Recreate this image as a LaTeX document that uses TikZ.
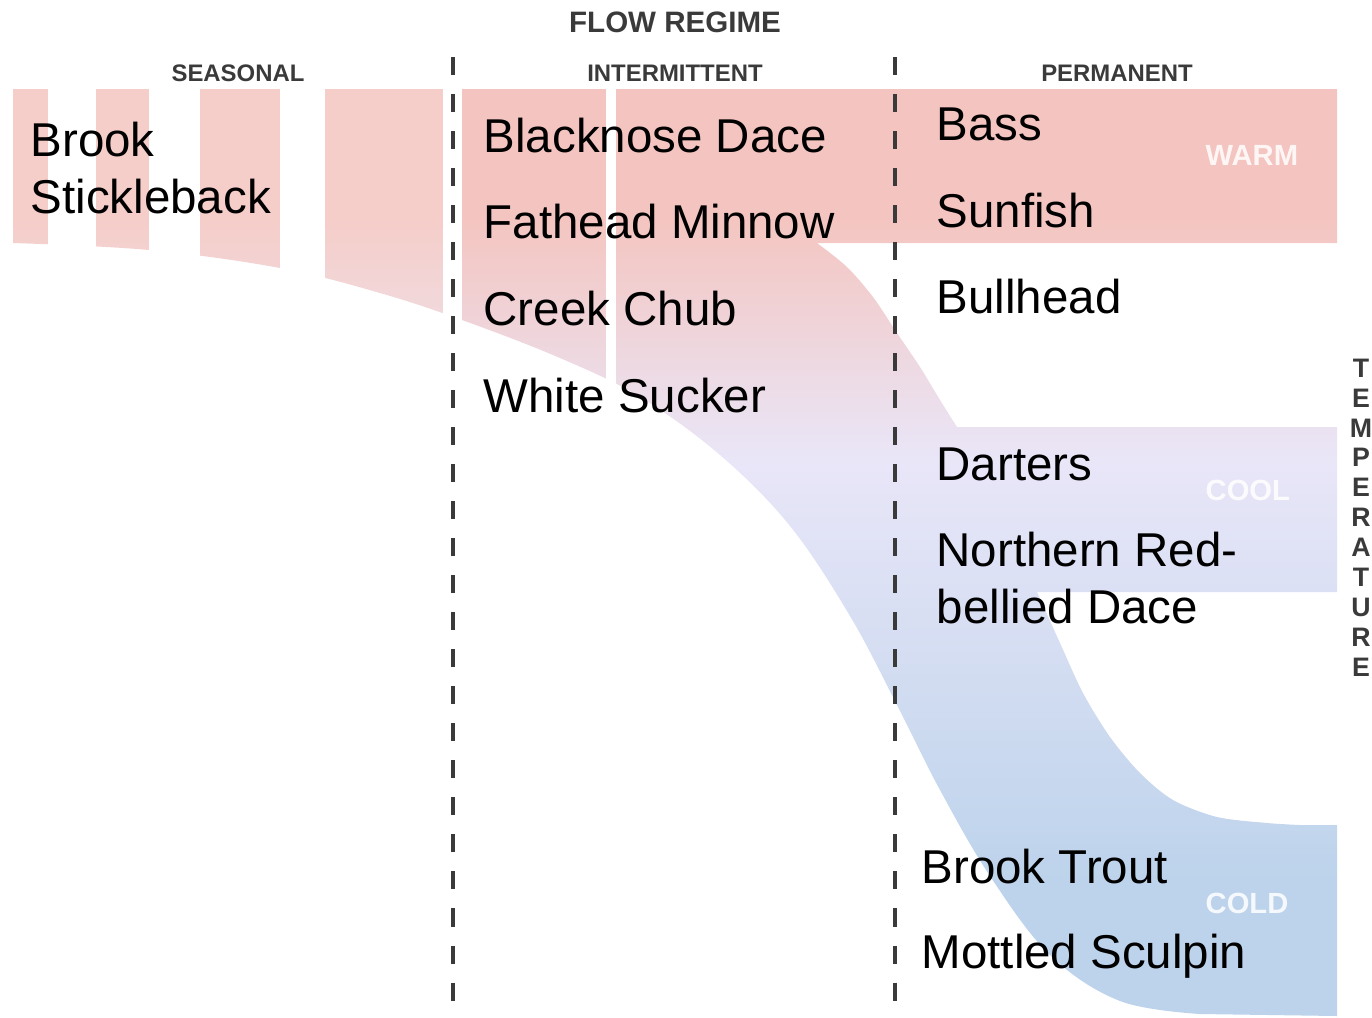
\documentclass[tikz,border=0pt]{standalone}
\usepackage{fontspec}
\setmainfont{Liberation Sans}
\definecolor{warmpink}{RGB}{244,197,192}
\definecolor{coollilac}{RGB}{233,230,248}
\definecolor{coldblue}{RGB}{188,211,235}
\definecolor{labelgray}{RGB}{58,58,58}
\pgfdeclareverticalshading{flowshade}{100bp}{color(0bp)=(coldblue); color(32bp)=(coldblue); color(55bp)=(coollilac); color(68bp)=(warmpink); color(100bp)=(warmpink)}
\tikzset{
  fish/.style = {anchor=base west, inner sep=0pt, align=left,
    font=\fontsize{13.5}{16.2}\selectfont},
  regime/.style = {anchor=base, inner sep=0pt, text=labelgray,
    font=\bfseries\fontsize{6.8}{8}\selectfont},
  heading/.style = {regime, font=\bfseries\fontsize{8.4}{10}\selectfont},
  zone/.style = {anchor=base west, inner sep=0pt, text=white, text opacity=0.85,
    font=\bfseries\fontsize{8.3}{10}\selectfont},
  axisletter/.style = {inner sep=0pt, text=labelgray,
    font=\bfseries\fontsize{7.6}{8}\selectfont},
  divider/.style = {draw=labelgray, line width=0.04cm,
    dash pattern=on 0.18cm off 0.19cm}
}

\begin{document}
\begin{tikzpicture}[x=0.01cm,y=-0.01cm]
  \useasboundingbox (0,0) rectangle (1372,1017);
  % flow band
  \shade[shading=flowshade] (13,89) -- (1337,89) -- (1337,243)
    -- plot[smooth] coordinates {(817,243) (847,267) (873,297) (897,333) (920,367) (940,400) (957,427)}
    -- (1337,427) -- (1337,592)
    -- plot[smooth] coordinates {(1037,592) (1060,643) (1083,693) (1110,737) (1140,773) (1173,800) (1217,817) (1267,823) (1300,825)}
    -- (1337,825) -- (1337,1016)
    -- plot[smooth, tension=0.6] coordinates {(1200,1014) (1120,1001) (1050,955) (990,876) (940,790) (897,705) (850,616) (790,526) (720,455) (640,397) (560,358) (462,320) (380,293) (280,268) (149,250) (13,243)}
    -- cycle;
  % seasonal part is paler
  \fill[white, fill opacity=0.15] (0,80) rectangle (445,330);
  % gaps
  \fill[white] (48,80) rectangle (96,330);
  \fill[white] (149,80) rectangle (200,330);
  \fill[white] (280,80) rectangle (325,330);
  \fill[white] (443,80) rectangle (462,340);
  \fill[white] (606,80) rectangle (616,400);
  % regime dividers
  \draw[divider] (453,57) -- (453,1017);
  \draw[divider] (895,57) -- (895,1017);
  % headings
  \node[heading] (flow) at (675,32) {FLOW REGIME};
  \node[regime] (seasonal) at (238,81) {SEASONAL};
  \node[regime] (intermittent) at (675,81) {INTERMITTENT};
  \node[regime] (permanent) at (1117,81) {PERMANENT};
  % fish
  \node[fish] (stickleback) at (30,213) {Brook\\Stickleback};
  \node[fish] (blacknose) at (483,152) {Blacknose Dace};
  \node[fish] (fathead) at (483,238) {Fathead Minnow};
  \node[fish] (chub) at (483,325) {Creek Chub};
  \node[fish] (sucker) at (483,412) {White Sucker};
  \node[fish] (bass) at (936,140) {Bass};
  \node[fish] (sunfish) at (936,227) {Sunfish};
  \node[fish] (bullhead) at (936,313) {Bullhead};
  \node[fish] (darters) at (936,480) {Darters};
  \node[fish] (redbelly) at (936,623) {Northern Red-\\bellied Dace};
  \node[fish] (trout) at (921,883) {Brook Trout};
  \node[fish] (sculpin) at (921,968) {Mottled Sculpin};
  % temperature classes
  \node[zone] (warm) at (1205,165) {WARM};
  \node[zone] (cool) at (1205,500) {COOL};
  \node[zone] (cold) at (1205,913) {COLD};
  \foreach \ch [count=\i from 0] in {T,E,M,P,E,R,A,T,U,R,E}
    \node[axisletter] (temp\i) at (1361,{368+29.9*\i}) {\ch};
\end{tikzpicture}
\end{document}
